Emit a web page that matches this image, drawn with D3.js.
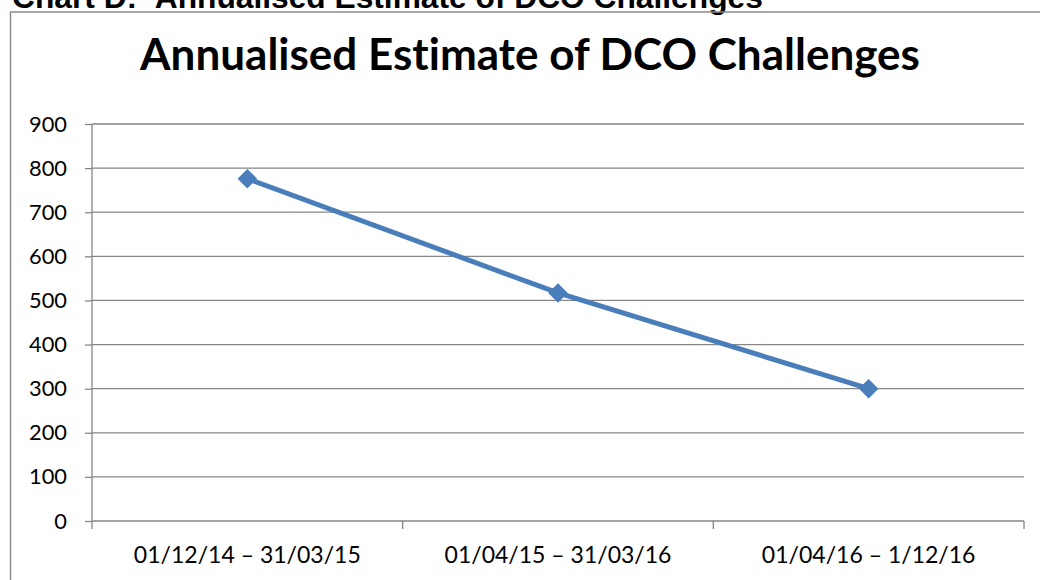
<!DOCTYPE html>
<html>
<head>
<meta charset="utf-8">
<script src="https://cdn.jsdelivr.net/npm/d3@7"></script>
<style>
  body { margin: 0; background: #fff; }
  svg { display: block; }
  text { font-variant-ligatures: none; }
</style>
</head>
<body>
<div id="drawing_region"></div>
<script>
// chart data
const categories = ["01/12/14 \u2013 31/03/15", "01/04/15 \u2013 31/03/16", "01/04/16 \u2013 1/12/16"];
const values = [776, 517, 300];
const yTicks = [0, 100, 200, 300, 400, 500, 600, 700, 800, 900];
const headerText = "Chart D:\u00a0\u00a0Annualised Estimate of DCO Challenges";
const titleText = "Annualised Estimate of DCO Challenges";

const width = 1040, height = 580;
const margin = {top: 124, right: 16, bottom: 59, left: 92};
const gridColor = "#868686";
const lineColor = "#4a7ebb";
const labelFont = "Lato, 'Open Sans', sans-serif";

const svg = d3.select("#drawing_region")
    .append("svg")
    .attr("width", width)
    .attr("height", height);

// fit a text element's font size so its width matches a target
function fitWidth(sel, target) {
    const fs = parseFloat(sel.attr("font-size"));
    const w = sel.node().getComputedTextLength();
    return fs * target / w;
}

// header above the chart box (cut by the page edge, as in the source)
const header = svg.append("text")
    .attr("x", 12)
    .attr("y", 8)
    .attr("font-family", "'Liberation Sans', Arial, sans-serif")
    .attr("font-weight", "bold")
    .attr("font-size", 32)
    .attr("fill", "#000")
    .text(headerText);
header.attr("font-size", fitWidth(header, 751));

// chart frame
svg.append("rect")
    .attr("x", 10.5)
    .attr("y", 12)
    .attr("width", 1060)
    .attr("height", 600)
    .attr("fill", "none")
    .attr("stroke", "#8c8c8c")
    .attr("stroke-width", 1.5);

// title
const title = svg.append("text")
    .attr("x", 530)
    .attr("y", 70)
    .attr("text-anchor", "middle")
    .attr("font-family", labelFont)
    .attr("font-weight", "bold")
    .attr("font-size", 42)
    .attr("fill", "#000")
    .text(titleText);
title.attr("font-size", fitWidth(title, 780));

const inner_width = width - margin.left - margin.right;
const inner_height = height - margin.top - margin.bottom;

const chart = svg.append("g")
    .attr("transform", `translate(${margin.left}, ${margin.top})`);

const xscale = d3.scaleBand()
    .domain(categories)
    .range([0, inner_width])
    .padding(0);

const yscale = d3.scaleLinear()
    .domain([0, 900])
    .range([inner_height, 0]);

// gridlines
chart.append("g")
    .selectAll("line")
    .data(yTicks.filter(d => d > 0))
    .join("line")
    .attr("x1", 0)
    .attr("x2", inner_width)
    .attr("y1", d => yscale(d))
    .attr("y2", d => yscale(d))
    .attr("stroke", gridColor)
    .attr("stroke-width", 1.3);

// y axis
const yaxis_group = chart.append("g")
    .call(d3.axisLeft(yscale).tickValues(yTicks).tickSize(7).tickPadding(18));

// x axis
const xaxis_group = chart.append("g")
    .attr("transform", `translate(0, ${inner_height})`)
    .call(d3.axisBottom(xscale).tickSize(0).tickPadding(30));

// x axis ticks sit on the category boundaries
const bounds = categories.map(c => xscale(c)).concat([inner_width]);
xaxis_group.selectAll(".bound")
    .data(bounds)
    .join("line")
    .attr("class", "bound")
    .attr("x1", d => d)
    .attr("x2", d => d)
    .attr("y1", 0)
    .attr("y2", 8)
    .attr("stroke", gridColor)
    .attr("stroke-width", 1.3);

[yaxis_group, xaxis_group].forEach(g => {
    g.select(".domain").attr("stroke", gridColor).attr("stroke-width", 1.3);
    g.selectAll(".tick line").attr("stroke", gridColor).attr("stroke-width", 1.3);
    g.selectAll("text")
        .attr("font-family", labelFont)
        .attr("font-size", 22)
        .attr("fill", "#000");
});
xaxis_group.select(".domain").attr("d", `M0,0H${inner_width}`);
yaxis_group.select(".domain").attr("d", `M0,0V${inner_height}`);

// size tick labels to the widths measured on the source
const xfs = fitWidth(xaxis_group.select(".tick text"), 227);
xaxis_group.selectAll(".tick text").attr("font-size", xfs).attr("dy", null).attr("y", 42);
const yfs = fitWidth(yaxis_group.selectAll(".tick text").filter(d => d === 100), 38);
yaxis_group.selectAll(".tick text").attr("font-size", Math.min(yfs, xfs * 1.1));

// series line
const line = d3.line()
    .x((d, i) => xscale(categories[i]) + xscale.bandwidth() / 2)
    .y(d => yscale(d));

chart.append("path")
    .datum(values)
    .attr("d", line)
    .attr("fill", "none")
    .attr("stroke", lineColor)
    .attr("stroke-width", 5);

// diamond markers
chart.selectAll(".marker")
    .data(values)
    .join("path")
    .attr("class", "marker")
    .attr("d", d3.symbol(d3.symbolSquare).size(165))
    .attr("transform", (d, i) =>
        `translate(${xscale(categories[i]) + xscale.bandwidth() / 2}, ${yscale(d)}) rotate(45)`)
    .attr("fill", lineColor)
    .attr("stroke", lineColor)
    .attr("stroke-width", 1);
</script>
</body>
</html>
